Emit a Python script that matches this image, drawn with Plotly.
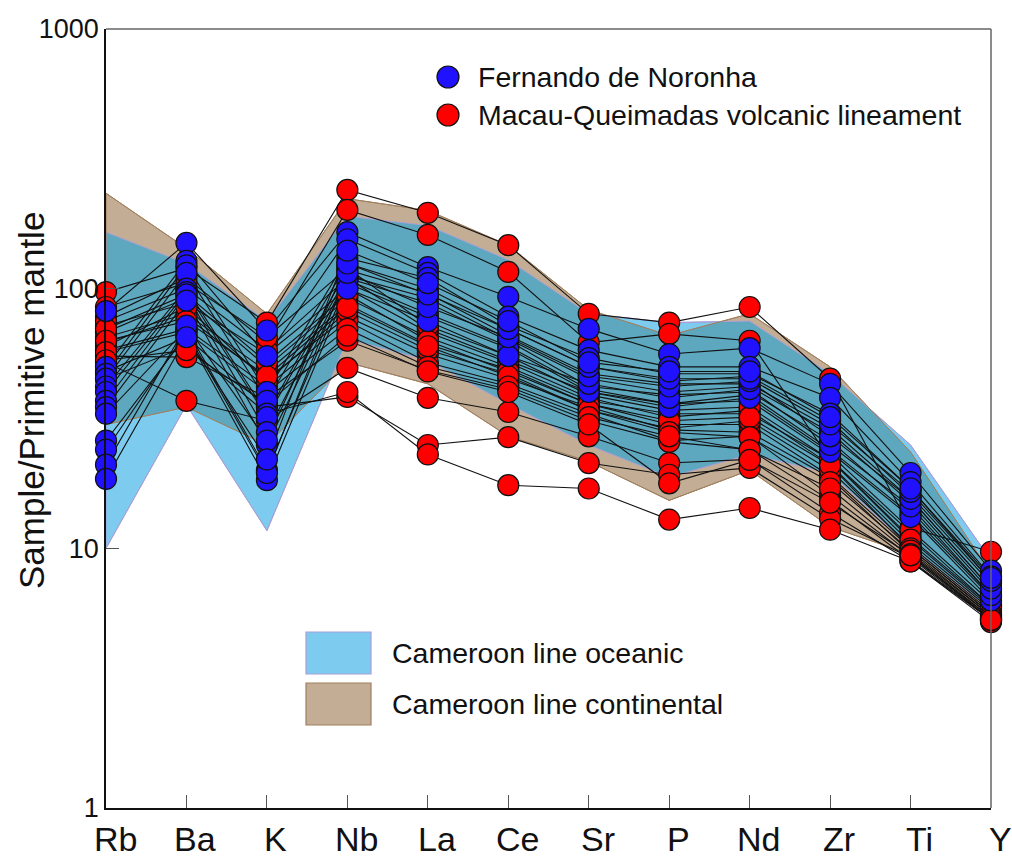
import math
import plotly.graph_objects as go

elements = ["Rb", "Ba", "K", "Nb", "La", "Ce", "Sr", "P", "Nd", "Zr", "Ti", "Y"]

# Cameroon line fields (primitive-mantle normalised)
oceanic_upper = [165, 125, 75, 190, 175, 129, 80, 74, 75, 47, 25, 9.0]
oceanic_lower = [10, 35.7, 11.7, 64, 53, 36, 25, 18.8, 23, 19.5, 10.1, 5.8]
continental_upper = [233, 143, 80, 222, 200, 147, 83, 66, 80, 50, 23.5, 8.0]
continental_lower = [30, 35, 25, 52, 43, 27, 21.6, 15.3, 20, 12.1, 9.5, 5.3]

# Fernando de Noronha samples
fernando = [
    [82, 150, 69, 165, 121, 93, 70, 56, 59, 43, 19.5, 8.2],
    [50, 128, 55, 155, 115, 78, 58, 50, 50, 38, 18, 7.8],
    [47, 123, 40, 131, 110, 72, 54, 47, 47, 33, 17, 7.5],
    [45, 115, 37, 125, 100, 70, 50, 44, 46, 31, 16, 7.3],
    [42, 100, 33, 118, 96, 66, 47, 43, 43, 29, 15.5, 7.0],
    [40, 97, 32, 112, 92, 64, 45, 40, 42, 28, 15, 6.8],
    [37, 95, 28, 110, 88, 63, 42, 39, 40, 26, 14, 6.6],
    [35, 90, 25, 108, 80, 60, 41, 36, 39, 24, 13.5, 6.5],
    [33, 70, 20, 105, 78, 59, 40, 35, 38, 23.5, 13.2, 6.3],
    [26, 66, 18.3, 100, 75, 55, 43, 38, 41, 25, 14.5, 6.6],
    [24, 68, 19.5, 115, 85, 65, 46, 42, 44, 27, 15.5, 7.0],
    [21, 72, 26, 125, 95, 70, 50, 45, 45, 30, 16.5, 7.5],
    [18.5, 65, 22, 140, 105, 75, 52, 48, 48, 32, 17, 7.7],
]

# Macau-Queimadas volcanic lineament samples
macau = [
    [97, 120, 74, 240, 196, 147, 80, 74, 85, 45, 12, 9.7],
    [78, 110, 62, 201, 161, 116, 62, 67, 63, 22, 11.5, 6.0],
    [72, 88, 56, 100, 68, 52, 38, 32, 34, 21, 10.5, 5.8],
    [65, 80, 48, 87, 61, 49, 36, 30, 30, 19, 10, 5.6],
    [62, 78, 45, 78, 56, 45, 35, 28.6, 28, 18.7, 9.6, 5.5],
    [58, 70, 42, 75, 52, 43, 33, 26, 27, 16, 9.3, 5.4],
    [55, 54.5, 38, 63, 48.5, 41, 31, 25.7, 24, 15.3, 9.0, 5.3],
    [52, 37, 31, 49.5, 38, 33.5, 27, 21.3, 22, 13.7, 8.9, 5.2],
    [48, 65, 35, 38.3, 25, 26.8, 21.3, 19.2, 20.4, 13, 9.2, 5.3],
    [45, 60, 33, 40, 23, 17.5, 17, 12.9, 14.3, 11.8, 8.9, 5.3],
    [68, 92, 50, 92, 65, 50, 37, 33, 33, 22, 11, 6.0],
    [60, 85, 44, 82, 58, 47, 34, 29, 31, 20, 10.2, 5.7],
    [75, 100, 58, 110, 70, 53, 40, 36, 37, 23, 11.8, 6.2],
    [85, 105, 65, 120, 72, 55, 39, 34, 35, 22, 10.8, 5.9],
    [70, 95, 52, 95, 63, 48, 36, 31, 32, 20.9, 10, 5.6],
    [63, 75, 46, 85, 60, 46, 34, 28, 26.8, 18, 9.8, 5.5],
    [57, 68, 40, 70, 50, 42, 32, 27, 23.9, 17, 9.5, 5.4],
    [53, 58, 36, 66, 48, 40, 30, 17.8, 21.9, 15, 9.4, 5.3],
]

FONT = "Liberation Sans, Arial, sans-serif"
BLUE = "#2012FF"
RED = "#FF0000"
OCE_FILL = "#7DCCF0"
OCE_EDGE = "#A89FD6"
CON_FILL = "#C4AD95"
CON_EDGE = "#A0805F"
OVERLAP = "#5DA8BF"

xpos = list(range(len(elements)))


def envelope(a, b, fn):
    la = [math.log10(v) for v in a]
    lb = [math.log10(v) for v in b]
    xs, ys = [], []
    n = len(a)
    for i in range(n):
        xs.append(i)
        ys.append(fn(la[i], lb[i]))
        if i < n - 1:
            d0 = la[i] - lb[i]
            d1 = la[i + 1] - lb[i + 1]
            if d0 * d1 < 0:
                t = d0 / (d0 - d1)
                xs.append(i + t)
                ys.append(la[i] + t * (la[i + 1] - la[i]))
    return xs, [10 ** y for y in ys]


fig = go.Figure()

# oceanic field
fig.add_trace(go.Scatter(
    x=xpos + xpos[::-1], y=oceanic_upper + oceanic_lower[::-1],
    fill="toself", fillcolor=OCE_FILL, mode="lines",
    line=dict(color=OCE_EDGE, width=1), hoverinfo="skip", showlegend=False))
# continental field
fig.add_trace(go.Scatter(
    x=xpos + xpos[::-1], y=continental_upper + continental_lower[::-1],
    fill="toself", fillcolor=CON_FILL, mode="lines",
    line=dict(color=CON_EDGE, width=1), hoverinfo="skip", showlegend=False))
# overlap
ux, uy = envelope(oceanic_upper, continental_upper, min)
lx, ly = envelope(oceanic_lower, continental_lower, max)
fig.add_trace(go.Scatter(
    x=ux + lx[::-1], y=uy + ly[::-1],
    fill="toself", fillcolor=OVERLAP, mode="lines",
    line=dict(color="rgba(0,0,0,0)", width=0), hoverinfo="skip", showlegend=False))
# edges on top
for up, lo, col in [(oceanic_upper, oceanic_lower, OCE_EDGE),
                    (continental_upper, continental_lower, CON_EDGE)]:
    fig.add_trace(go.Scatter(
        x=xpos + xpos[::-1] + [xpos[0]], y=up + lo[::-1] + [up[0]],
        mode="lines", line=dict(color=col, width=1),
        hoverinfo="skip", showlegend=False))

# sample lines
lx_all, ly_all = [], []
for s in macau + fernando:
    lx_all += xpos + [None]
    ly_all += s + [None]
fig.add_trace(go.Scatter(x=lx_all, y=ly_all, mode="lines",
                         line=dict(color="#111111", width=1.1),
                         connectgaps=False, hoverinfo="skip", showlegend=False,
                         cliponaxis=False))

# markers
for data, col in [(macau, RED), (fernando, BLUE)]:
    mx, my = [], []
    for s in data:
        mx += xpos
        my += s
    fig.add_trace(go.Scatter(x=mx, y=my, mode="markers",
                             marker=dict(size=21, color=col,
                                         line=dict(color="#111111", width=1.2)),
                             cliponaxis=False, showlegend=False))

PL, PR, PT, PB = 106, 991, 29, 808


def px(x):
    return (x - PL) / (PR - PL)


def py(y):
    return (PB - y) / (PB - PT)


shapes = [
    dict(type="line", xref="paper", yref="paper", x0=0, x1=1, y0=1, y1=1,
         line=dict(color="#666666", width=1.5)),
    dict(type="line", xref="paper", yref="paper", x0=1, x1=1, y0=0, y1=1,
         line=dict(color="#666666", width=1.5)),
]
# legend symbols
for yy, col in [(77, BLUE), (115, RED)]:
    shapes.append(dict(type="circle", xref="paper", yref="paper",
                       xsizemode="pixel", ysizemode="pixel",
                       xanchor=px(448), yanchor=py(yy),
                       x0=-11, x1=11, y0=-11, y1=11,
                       fillcolor=col, line=dict(color="#111111", width=1.2)))
for (y0, y1), fc, lc in [((632, 674), OCE_FILL, OCE_EDGE), ((683, 725), CON_FILL, CON_EDGE)]:
    shapes.append(dict(type="rect", xref="paper", yref="paper",
                       x0=px(306), x1=px(371), y0=py(y1), y1=py(y0),
                       fillcolor=fc, line=dict(color=lc, width=1.2)))

annotations = []
for txt, xx, yy in [("Fernando de Noronha", 476, 77),
                    ("Macau-Queimadas volcanic lineament", 476, 115),
                    ("Cameroon line oceanic", 390, 653),
                    ("Cameroon line continental", 390, 704)]:
    annotations.append(dict(text=txt, xref="paper", yref="paper", x=px(xx), y=py(yy),
                            xanchor="left", yanchor="middle", showarrow=False,
                            font=dict(family=FONT, size=28.5, color="#111111")))
annotations.append(dict(text="Sample/Primitive mantle", xref="paper", yref="paper",
                        x=px(31), y=py(401), xanchor="center", yanchor="middle",
                        textangle=-90, showarrow=False,
                        font=dict(family=FONT, size=35, color="#111111")))
# element labels (slightly right of the tick marks, as in the reference)
for i, el in zip(xpos, elements):
    annotations.append(dict(text=el, xref="x", yref="paper", x=i, y=0,
                            xanchor="center", yanchor="middle", xshift=9, yshift=-31,
                            showarrow=False,
                            font=dict(family=FONT, size=34, color="#111111")))

fig.update_layout(
    width=1012, height=859,
    margin=dict(l=PL, r=1012 - PR, t=PT, b=859 - PB, autoexpand=False),
    paper_bgcolor="white", plot_bgcolor="white",
    showlegend=False,
    shapes=shapes, annotations=annotations,
    font=dict(family=FONT, color="#111111"),
)
fig.update_xaxes(range=[0, 11], tickmode="array", tickvals=xpos, ticktext=elements,
                 showticklabels=False,
                 ticks="inside", ticklen=13, tickcolor="#555555", tickwidth=1.2,
                 showline=True, linecolor="#111111", linewidth=1.5,
                 showgrid=False, zeroline=False, automargin=False)
fig.update_yaxes(type="log", range=[0, 3], tickmode="array",
                 tickvals=[1, 10, 100, 1000], ticktext=["1", "10", "100", "1000"],
                 ticks="inside", ticklen=13, tickcolor="#555555", tickwidth=1.2,
                 showline=True, linecolor="#111111", linewidth=1.5,
                 showgrid=False, zeroline=False, automargin=False,
                 tickfont=dict(family=FONT, size=27, color="#111111"))

fig.write_html("out.html")
